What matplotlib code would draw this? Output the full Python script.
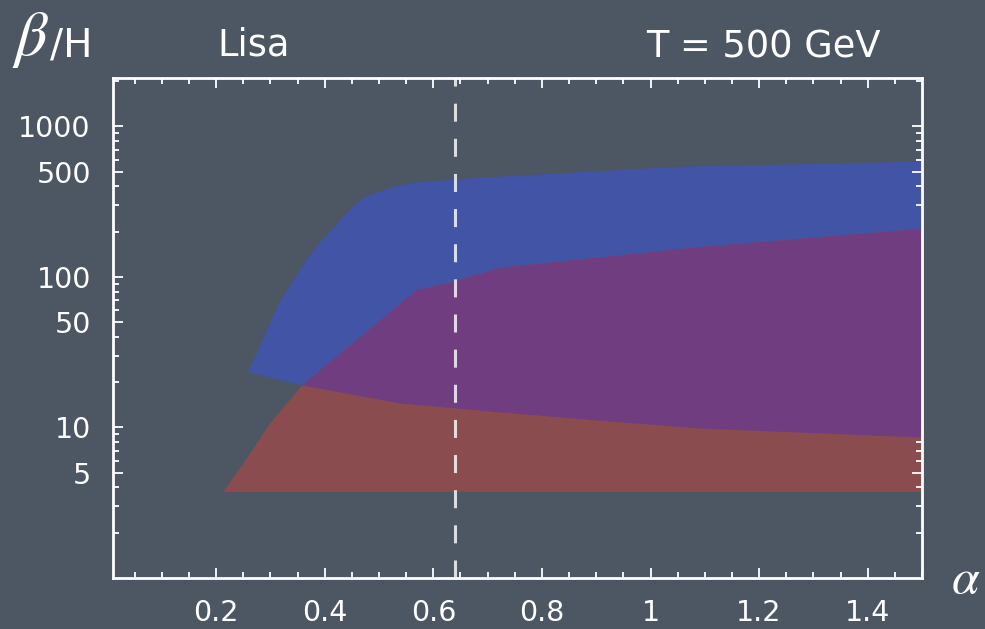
import numpy as np
import matplotlib.pyplot as plt
from matplotlib.ticker import FixedLocator, MultipleLocator, NullFormatter
plt.rcParams['mathtext.fontset'] = 'stix'

# region boundaries (alpha, beta/H)
blue_top_x = [0.259, 0.318, 0.379, 0.441, 0.471, 0.520, 0.563, 0.686, 1.054, 1.5]
blue_top_y = [23.3, 70.2, 151, 267, 336, 392, 423, 457, 541, 584]
blue_bot_x = [0.259, 0.358, 0.539, 0.723, 0.907, 1.091, 1.5]
blue_bot_y = [23.3, 19.05, 14.45, 12.6, 11.1, 9.85, 8.58]
red_top_x = [0.213, 0.250, 0.299, 0.358, 0.570, 0.636, 0.723, 1.091, 1.5]
red_top_y = [3.74, 5.75, 10.6, 19.05, 81.9, 92.6, 115, 158, 209]
red_bot_y = 3.74
alpha_line = 0.64

xticks = [0.2, 0.4, 0.6, 0.8, 1.0, 1.2, 1.4]
xticklabels = ['0.2', '0.4', '0.6', '0.8', '1', '1.2', '1.4']
yticks = [5, 10, 50, 100, 500, 1000]
yticklabels = ['5', '10', '50', '100', '500', '1000']

bg = '#4d5663'
c_blue = '#4254a5'
c_red = '#8b4c4f'
c_purple = '#6f3d80'

W, H = 985, 629
fig = plt.figure(figsize=(W / 100, H / 100), dpi=100, facecolor=bg)
ax = fig.add_axes([113 / W, 1 - 578 / H, (922 - 113) / W, (578 - 78) / H])
ax.set_facecolor(bg)
ax.set_yscale('log')
ax.set_xlim(0.01, 1.5)
ax.set_ylim(1, 2100)

# blue band
ax.fill(blue_top_x + blue_bot_x[::-1], blue_top_y + blue_bot_y[::-1],
        color=c_blue, lw=0, zorder=1)
# red band
ax.fill(red_top_x + [red_top_x[-1], red_top_x[0]],
        red_top_y + [red_bot_y, red_bot_y], color=c_red, lw=0, zorder=1)
# overlap of the two bands
x0 = blue_bot_x[1]
ov_top = [(x, y) for x, y in zip(red_top_x, red_top_y) if x >= x0]
ov_bot = [(x, y) for x, y in zip(blue_bot_x, blue_bot_y) if x >= x0][::-1]
pts = ov_top + ov_bot
ax.fill([p[0] for p in pts], [p[1] for p in pts], color=c_purple, lw=0, zorder=2)

ax.axvline(alpha_line, color='white', alpha=0.8, lw=2.2, dashes=(5.9, 5.6), zorder=3)

for s in ax.spines.values():
    s.set_color('white')
    s.set_linewidth(2)
    s.set_zorder(4)

ax.xaxis.set_major_locator(FixedLocator(xticks))
ax.set_xticklabels(xticklabels)
ax.xaxis.set_minor_locator(MultipleLocator(0.05))
ax.yaxis.set_major_locator(FixedLocator(yticks))
ax.set_yticklabels(yticklabels)
minor_y = [m * 10 ** e for e in range(0, 4) for m in range(2, 10) if m * 10 ** e not in yticks]
ax.yaxis.set_minor_locator(FixedLocator(minor_y))
ax.yaxis.set_minor_formatter(NullFormatter())

ax.tick_params(which='both', direction='in', top=True, right=True,
               colors='white', width=1.3)
ax.tick_params(which='major', length=7)
ax.tick_params(which='minor', length=4)
ax.tick_params(axis='x', which='major', labelsize=20.5, pad=15)
ax.tick_params(axis='y', which='major', labelsize=20.5, pad=16)

def px(x, y):
    return x / W, 1 - y / H

fig.text(*px(12, 55), r'$\beta$', color='white', fontsize=46,
         ha='left', va='baseline')
fig.text(*px(50, 56), '/H', color='white', fontsize=28, ha='left', va='baseline')
fig.text(*px(217, 56), 'Lisa', color='white', fontsize=26.5, ha='left', va='baseline')
fig.text(*px(646, 57), 'T = 500 GeV', color='white', fontsize=26.5,
         ha='left', va='baseline')
fig.text(*px(951, 593), r'$\alpha$', color='white', fontsize=36,
         ha='left', va='baseline')

fig.savefig('out.png', dpi=100, facecolor=bg)
